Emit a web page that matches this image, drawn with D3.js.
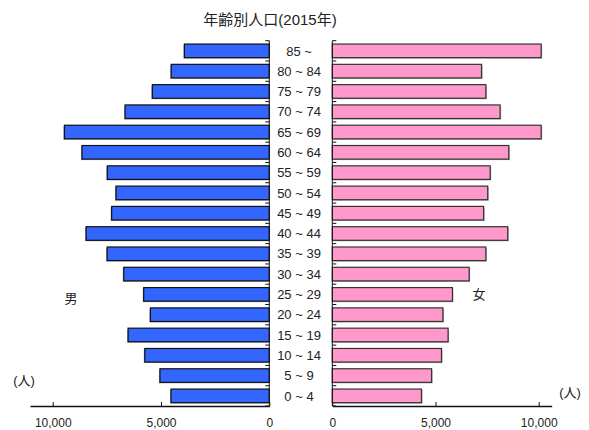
<!DOCTYPE html>
<html>
<head>
<meta charset="utf-8">
<script src="https://cdn.jsdelivr.net/npm/d3@7"></script>
<style>
  body { margin: 0; background: #fff; }
  svg text { font-family: "Liberation Sans", Arial, "Noto Sans CJK JP", sans-serif; fill: #222; }
</style>
</head>
<body>
<div id="chart"></div>
<script>
var ageGroups = ['85 ~', '80 ~ 84', '75 ~ 79', '70 ~ 74', '65 ~ 69', '60 ~ 64', '55 ~ 59', '50 ~ 54', '45 ~ 49',
		'40 ~ 44', '35 ~ 39', '30 ~ 34', '25 ~ 29', '20 ~ 24', '15 ~ 19', '10 ~ 14', '5 ~ 9', '0 ~ 4'];
var male = [3920, 4530, 5400, 6660, 9460, 8650, 7480, 7080, 7280, 8460, 7490, 6720, 5800, 5490, 6520, 5750, 5050, 4540];
var female = [10120, 7230, 7440, 8130, 10120, 8550, 7650, 7530, 7330, 8500, 7440, 6630, 5820, 5360, 5610, 5290, 4810, 4320];
var xTicks = [0, 5000, 10000];

var width = 589, height = 430;
var plotTop = 40.7, plotBottom = 406;
var leftZero = 269.3, rightZero = 332.3;

var svg = d3.select("#chart").append("svg")
	.attr("width", width)
	.attr("height", height);

var y = d3.scaleBand()
	.domain(ageGroups)
	.range([plotTop, plotBottom])
	.paddingInner(0.33)
	.paddingOuter(0.165);

var xL = d3.scaleLinear().domain([0, 11050]).range([leftZero, 30]);
var xR = d3.scaleLinear().domain([0, 10630]).range([rightZero, 551.7]);

// title
svg.append("text")
	.attr("x", 270)
	.attr("y", 25)
	.attr("text-anchor", "middle")
	.style("font-size", "15px")
	.text("年齢別人口(2015年)");

// shadows
svg.append("g").selectAll("rect")
	.data(male)
	.join("rect")
		.attr("x", function(d) { return xL(d) - 1; })
		.attr("y", function(d, i) { return y(ageGroups[i]) + 1; })
		.attr("width", function(d) { return leftZero - xL(d); })
		.attr("height", y.bandwidth())
		.attr("fill", "#aaa");

svg.append("g").selectAll("rect")
	.data(female)
	.join("rect")
		.attr("x", rightZero + 1)
		.attr("y", function(d, i) { return y(ageGroups[i]) + 1; })
		.attr("width", function(d) { return xR(d) - rightZero; })
		.attr("height", y.bandwidth())
		.attr("fill", "#aaa");

// bars
svg.append("g").attr("class", "male").selectAll("rect")
	.data(male)
	.join("rect")
		.attr("x", function(d) { return xL(d); })
		.attr("y", function(d, i) { return y(ageGroups[i]); })
		.attr("width", function(d) { return leftZero - xL(d); })
		.attr("height", y.bandwidth())
		.attr("fill", "#3366ff")
		.attr("stroke", "#111")
		.attr("stroke-width", 1.2);

svg.append("g").attr("class", "female").selectAll("rect")
	.data(female)
	.join("rect")
		.attr("x", rightZero)
		.attr("y", function(d, i) { return y(ageGroups[i]); })
		.attr("width", function(d) { return xR(d) - rightZero; })
		.attr("height", y.bandwidth())
		.attr("fill", "#ff99cc")
		.attr("stroke", "#333")
		.attr("stroke-width", 1.2);

// vertical category axes (ticks at band edges, pointing into the bars)
var edges = ageGroups.map(function(a) { return y(a) - y.step() * y.paddingInner() / 2; });
edges.push(plotBottom);

var vAxis = svg.append("g").attr("stroke", "#111").attr("stroke-width", 1);
[[leftZero, -4], [rightZero, 4]].forEach(function(s) {
	vAxis.append("line")
		.attr("x1", s[0]).attr("x2", s[0])
		.attr("y1", plotTop).attr("y2", plotBottom);
	vAxis.selectAll(null)
		.data(edges)
		.join("line")
			.attr("x1", s[0]).attr("x2", s[0] + s[1])
			.attr("y1", function(d) { return d; })
			.attr("y2", function(d) { return d; });
});

// category labels
svg.append("g").selectAll("text")
	.data(ageGroups)
	.join("text")
		.attr("x", 299)
		.attr("y", function(d) { return y(d) + y.bandwidth() / 2; })
		.attr("dy", "0.36em")
		.attr("text-anchor", "middle")
		.style("font-size", "13px")
		.text(function(d) { return d; });

// bottom value axes
var fmt = d3.format(",");
var axL = svg.append("g")
	.attr("transform", "translate(0," + plotBottom + ")")
	.call(d3.axisBottom(xL).tickValues(xTicks).tickFormat(fmt).tickSizeInner(-4).tickSizeOuter(0));
var axR = svg.append("g")
	.attr("transform", "translate(0," + plotBottom + ")")
	.call(d3.axisBottom(xR).tickValues(xTicks).tickFormat(fmt).tickSizeInner(-4).tickSizeOuter(0));

[axL, axR].forEach(function(ax) {
	ax.select(".domain").attr("stroke", "#111").attr("stroke-width", 1.3);
	ax.selectAll(".tick line").attr("stroke", "#111");
	ax.selectAll(".tick text")
		.attr("y", 12)
		.attr("dy", "0.71em")
		.style("font-size", "12px")
		.attr("fill", "#222");
});

// side labels
svg.append("text").attr("x", 71).attr("y", 298).attr("dy", "0.36em")
	.attr("text-anchor", "middle").style("font-size", "13px").text("男");
svg.append("text").attr("x", 479).attr("y", 294).attr("dy", "0.36em")
	.attr("text-anchor", "middle").style("font-size", "13px").text("女");
svg.append("text").attr("x", 24).attr("y", 380).attr("dy", "0.36em")
	.attr("text-anchor", "middle").style("font-size", "13px").text("(人)");
svg.append("text").attr("x", 570).attr("y", 392.5).attr("dy", "0.36em")
	.attr("text-anchor", "middle").style("font-size", "13px").text("(人)");
</script>
</body>
</html>
